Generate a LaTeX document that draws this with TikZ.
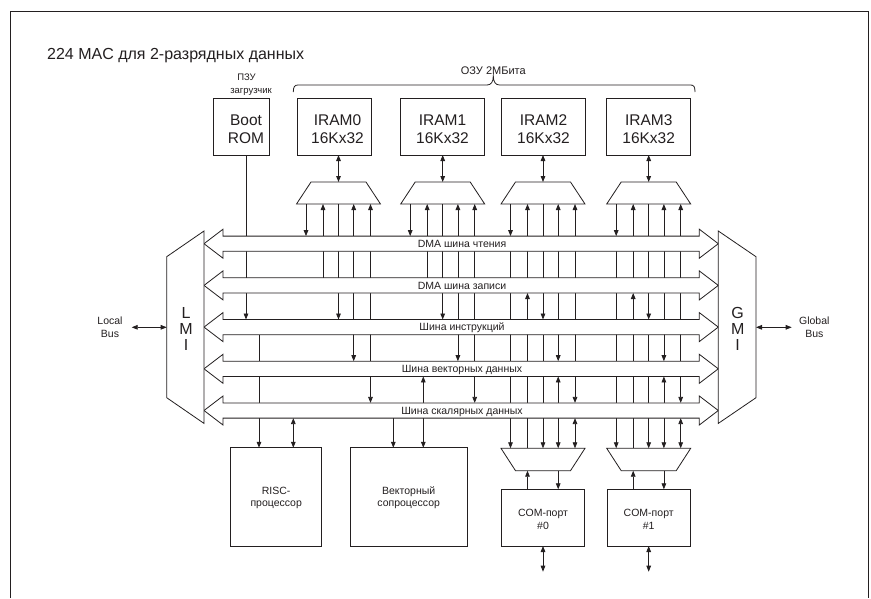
\documentclass[tikz,border=0pt]{standalone}
\usepackage{fontspec}
\setmainfont{Liberation Sans}
\usetikzlibrary{arrows.meta}
\definecolor{lc}{RGB}{35,31,32}
\begin{document}
\begin{tikzpicture}[x=1pt,y=-1pt,
  >={Triangle[length=6pt,width=4.6pt]},
  ln/.style={draw=lc,line width=0.8pt},
  ar/.style={ln,->},
  dar/.style={ln,<->},
  box/.style={draw=lc,line width=0.8pt,fill=white,inner sep=0pt,outer sep=0pt},
  big/.style={font=\fontsize{15.5}{18}\selectfont,text=lc,inner sep=0pt,anchor=base},
  sml/.style={font=\fontsize{10.5}{12.5}\selectfont,text=lc,inner sep=0pt,anchor=base},
  tny/.style={font=\fontsize{9.5}{12}\selectfont,text=lc,inner sep=0pt,anchor=base},
  mid/.style={font=\fontsize{11}{13}\selectfont,text=lc,inner sep=0pt,anchor=base},
  ttl/.style={font=\fontsize{16}{19}\selectfont,text=lc,inner sep=0pt,anchor=base west},
  lt/.style={font=\fontsize{16}{18}\selectfont,text=lc,inner sep=0pt,anchor=base},
]
\useasboundingbox (0,0) rectangle (871,598);
\fill[white] (0,0) rectangle (871,598);
\draw[lc,line width=1pt] (10,598) -- (10,11) -- (868,11) -- (868,598);

% ---------- top texts ----------
\node[ttl] (title) at (47,59.5) {224 MAC для 2-разрядных данных};
\node[tny] (pzu1) at (246.5,80.5) {ПЗУ};
\node[tny] (pzu2) at (251,93.5) {загрузчик};
\node[mid] (ozu) at (493.3,74) {ОЗУ 2МБита};
\draw[ln] (293.3,92) .. controls (293.3,87) and (294.5,85) .. (298,85) -- (487,85)
  .. controls (491,85) and (493.3,82) .. (493.3,76)
  .. controls (493.3,82) and (495.6,85) .. (499.6,85) -- (690.7,85)
  .. controls (694,85) and (695,87) .. (695,92);

% ---------- bus reference coordinates ----------
\coordinate (b1t) at (0,236.1); \coordinate (b1b) at (0,251.3);
\coordinate (b2t) at (0,277.8); \coordinate (b2b) at (0,293.0);
\coordinate (b3t) at (0,319.5); \coordinate (b3b) at (0,334.7);
\coordinate (b4t) at (0,361.2); \coordinate (b4b) at (0,376.4);
\coordinate (b5t) at (0,402.9); \coordinate (b5b) at (0,418.1);

% ---------- boxes ----------
\node[box,minimum width=56pt,minimum height=57pt] (boot) at (241,126.5) {};
\node[big] (bootA) at (246,125) {Boot};
\node[big] (bootB) at (246,143.3) {ROM};
\node[box,minimum width=74pt,minimum height=57pt] (iram0) at (334,126.5) {};
\node[big] (ir0a) at (337.5,125.5) {IRAM0};
\node[big] (ir0b) at (337.5,143.3) {16Kx32};
\foreach \i/\cx in {1/442.5,2/543.5,3/648.7}{
  \node[box,minimum width=84pt,minimum height=57pt] (iram\i) at (\cx,126.5) {};
  \node[big] (ir\i a) at (\cx,125.5) {IRAM\i};
  \node[big] (ir\i b) at (\cx,143.3) {16Kx32};
}
\node[box,minimum width=91pt,minimum height=98.3pt] (risc) at (276.2,496.9) {};
\node[sml] (risc1) at (276.2,494) {RISC-};
\node[sml] (risc2) at (276.2,506.5) {процессор};
\node[box,minimum width=117.3pt,minimum height=98.3pt] (cop) at (408.7,496.9) {};
\node[sml] (cop1) at (408.7,494) {Векторный};
\node[sml] (cop2) at (408.7,506.5) {сопроцессор};

% ---------- top multiplexers and their lines ----------
\foreach \i/\m in {0/338.5,1/442.7,2/543,3/648.7}{
  \draw[ln,fill=white] ({\m-27.5},182) -- ({\m+27.5},182) -- ({\m+42},204) -- ({\m-42},204) -- cycle;
  \coordinate (mt\i) at (\m,182);
  \coordinate (ma\i) at ({\m-32.5},204);
  \coordinate (mb\i) at ({\m-15.5},204);
  \coordinate (mc\i) at (\m,204);
  \coordinate (md\i) at ({\m+15.2},204);
  \coordinate (me\i) at ({\m+32},204);
  \draw[dar] (iram\i.south -| mt\i) -- (mt\i);
  \draw[ar] (ma\i) -- (ma\i |- b1t);
  \draw[ar] (mb\i |- b2t) -- (mb\i);
  \draw[ar] (mc\i) -- (mc\i |- b3t);
  \draw[dar] (md\i |- b4t) -- (md\i);
  \draw[dar] (me\i |- b5t) -- (me\i);
}

% ---------- COM-port multiplexers, boxes and lines ----------
\foreach \i/\m in {0/543,1/648.7}{
  \draw[ln,fill=white] ({\m-42},448.3) -- ({\m+42},448.3) -- ({\m+27.5},470.7) -- ({\m-27.5},470.7) -- cycle;
  \coordinate (ca\i) at ({\m-32.5},448.3);
  \coordinate (cb\i) at ({\m-15.5},448.3);
  \coordinate (cc\i) at (\m,448.3);
  \coordinate (cd\i) at ({\m+15.2},448.3);
  \coordinate (ce\i) at ({\m+32},448.3);
  \draw[ar] (ca\i |- b1b) -- (ca\i);
  \draw[ar] (cb\i) -- (cb\i |- b2b);
  \draw[ar] (cc\i |- b3b) -- (cc\i);
  \draw[dar] (cd\i |- b4b) -- (cd\i);
  \draw[dar] (ce\i |- b5b) -- (ce\i);
  \node[box,minimum width=83.3pt,minimum height=56.7pt] (com\i) at (\m,517.65) {};
  \node[sml] (com\i a) at (\m,516.5) {COM-порт};
  \node[sml] (com\i b) at (\m,529.5) {\#\i};
  \coordinate (cu\i) at ({\m-15.5},470.7);
  \coordinate (cv\i) at ({\m+15.2},470.7);
  \coordinate (cx\i) at (\m,571.7);
  \draw[ar] (com\i.north -| cu\i) -- (cu\i);
  \draw[ar] (cv\i) -- (com\i.north -| cv\i);
  \draw[dar] (com\i.south) -- (cx\i);
}

% ---------- other vertical connectors ----------
\coordinate (bx) at (246,0);
\draw[ar] (boot.south -| bx) -- (bx |- b3t);
\coordinate (rx1) at (259,0);
\coordinate (rx2) at (293.3,0);
\coordinate (vx1) at (393.3,0);
\coordinate (vx2) at (423.3,0);
\draw[ar] (rx1 |- b3b) -- (risc.north -| rx1);
\draw[dar] (rx2 |- b5b) -- (risc.north -| rx2);
\draw[ar] (vx1 |- b5b) -- (cop.north -| vx1);
\draw[dar] (vx2 |- b4b) -- (cop.north -| vx2);

% ---------- buses ----------
\foreach \c/\t [count=\k] in {243.7/DMA шина чтения,285.4/DMA шина записи,327.1/Шина инструкций,368.8/Шина векторных данных,410.5/Шина скалярных данных}{
  \draw[ln,fill=white] (204,\c) -- (223,{\c-14.5}) -- (223,{\c-7.6}) -- (699.3,{\c-7.6}) -- (699.3,{\c-14.5})
    -- (718.3,\c) -- (699.3,{\c+14.5}) -- (699.3,{\c+7.6}) -- (223,{\c+7.6}) -- (223,{\c+14.5}) -- cycle;
  \node[sml] (bus\k) at (462,{\c+3.8}) {\t};
}

% ---------- LMI / GMI ----------
\draw[ln,fill=white] (204,231) -- (204,423.4) -- (166.7,397.7) -- (166.7,256.7) -- cycle;
\draw[ln,fill=white] (718.3,231) -- (756,256.7) -- (756,397.7) -- (718.3,423.4) -- cycle;
\coordinate (lmi) at (166.7,327.3);
\coordinate (gmi) at (756,327.3);
\node[lt] (l1) at (186,318) {L};
\node[lt] (l2) at (186,334) {M};
\node[lt] (l3) at (186,350) {I};
\node[lt] (g1) at (737.7,318) {G};
\node[lt] (g2) at (737.7,334) {M};
\node[lt] (g3) at (737.7,350) {I};
\coordinate (lb) at (131.7,327.3);
\coordinate (gb) at (791.7,327.3);
\draw[dar] (lb) -- (lmi);
\draw[dar] (gmi) -- (gb);
\node[sml] (loc1) at (110,324.5) {Local};
\node[sml] (loc2) at (110,337.5) {Bus};
\node[sml] (glb1) at (814.3,324.5) {Global};
\node[sml] (glb2) at (814.3,337.5) {Bus};
\end{tikzpicture}
\end{document}
